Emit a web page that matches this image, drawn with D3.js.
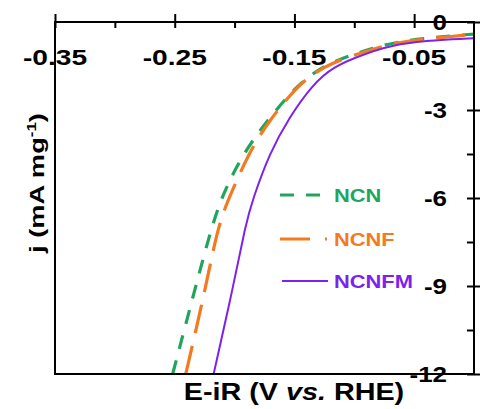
<!DOCTYPE html>
<html>
<head>
<meta charset="utf-8">
<script src="https://cdn.jsdelivr.net/npm/d3@7"></script>
<style>
  html, body { margin: 0; padding: 0; background: #fff; }
  svg { display: block; }
  text { font-family: "Liberation Sans", Arial, sans-serif; font-weight: bold; }
</style>
</head>
<body>
<svg id="chart" width="480" height="409"></svg>
<script>
// Polarization curves: potential (V vs. RHE) and mass-normalised current (mA mg-1)
const seriesNames = ["NCN", "NCNF", "NCNFM"];
const seriesColors = ["#20a65c", "#f47a1f", "#7d22ee"];

const ncnPotential   = [0, -0.0292, -0.0625, -0.09, -0.121, -0.135, -0.149, -0.1725, -0.1925, -0.2083, -0.2183, -0.2333, -0.2517];
const ncnCurrent     = [-0.41, -0.51, -0.65, -0.95, -1.40, -1.77, -2.22, -3.34, -4.47, -5.73, -6.85, -9.14, -12.0];
const ncnfPotential  = [0, -0.0292, -0.0625, -0.09, -0.121, -0.135, -0.1483, -0.171, -0.1883, -0.2017, -0.2135, -0.2245, -0.2408];
const ncnfCurrent    = [-0.42, -0.53, -0.68, -0.98, -1.43, -1.79, -2.22, -3.35, -4.48, -5.73, -6.85, -9.14, -12.0];
const ncnfmPotential = [0, -0.0292, -0.0625, -0.09, -0.1183, -0.135, -0.1542, -0.1708, -0.185, -0.1905, -0.2017, -0.2175];
const ncnfmCurrent   = [-0.55, -0.61, -0.72, -1.06, -1.53, -2.15, -3.24, -4.47, -6.07, -6.85, -9.14, -12.0];

const xMajorTicks = [-0.35, -0.25, -0.15, -0.05];
const xTickLabels = ["-0.35", "-0.25", "-0.15", "-0.05"];
const xMinorTicks = [-0.30, -0.20, -0.10];
const yMajorTicks = [0, -3, -6, -9, -12];
const yTickLabels = ["0", "-3", "-6", "-9", "-12"];
const yMinorTicks = [-1.5, -4.5, -7.5, -10.5];

const svg = d3.select("#chart");
const plot = { left: 55, right: 474, top: 22, bottom: 374 };

const x = d3.scaleLinear().domain([-0.35, 0]).range([plot.left, plot.right]);
const y = d3.scaleLinear().domain([0, -12]).range([plot.top, plot.bottom]);

const series = [
  { name: seriesNames[0], color: seriesColors[0], pot: ncnPotential, cur: ncnCurrent, dash: "14,12", width: 3.2 },
  { name: seriesNames[1], color: seriesColors[1], pot: ncnfPotential, cur: ncnfCurrent, dash: "29,13", width: 3.2 },
  { name: seriesNames[2], color: seriesColors[2], pot: ncnfmPotential, cur: ncnfmCurrent, dash: null, width: 2 }
];

svg.append("clipPath").attr("id", "plotClip")
  .append("rect")
  .attr("x", plot.left).attr("y", plot.top)
  .attr("width", plot.right - plot.left).attr("height", plot.bottom - plot.top);

// Curves (smoothed through the sampled points)
const line = d3.line()
  .x(d => x(d[0]))
  .y(d => y(d[1]))
  .curve(d3.curveBasis);

const curves = svg.append("g").attr("clip-path", "url(#plotClip)");
series.forEach(s => {
  const pts = s.pot.map((p, i) => [p, s.cur[i]]).sort((a, b) => a[0] - b[0]);
  curves.append("path")
    .datum(pts)
    .attr("d", line)
    .attr("fill", "none")
    .attr("stroke", s.color)
    .attr("stroke-width", s.width)
    .attr("stroke-dasharray", s.dash);
});

// Frame
svg.append("rect")
  .attr("x", plot.left).attr("y", plot.top)
  .attr("width", plot.right - plot.left).attr("height", plot.bottom - plot.top)
  .attr("fill", "none").attr("stroke", "#000").attr("stroke-width", 2);

function styleAxis(g) {
  g.select(".domain").remove();
  g.selectAll("line").attr("stroke", "#000").attr("stroke-width", 2);
  g.selectAll("text").remove();
}

// X axis along the top edge: inward ticks (major + minor), outward major ticks
svg.append("g").attr("transform", `translate(0,${plot.top})`)
  .call(d3.axisBottom(x).tickValues(xMajorTicks.concat(xMinorTicks)).tickSize(6).tickSizeOuter(0).tickFormat(""))
  .call(styleAxis);
svg.append("g").attr("transform", `translate(0,${plot.top})`)
  .call(d3.axisTop(x).tickValues(xMajorTicks).tickSize(8).tickSizeOuter(0).tickFormat(""))
  .call(styleAxis);

// Y axis along the right edge
svg.append("g").attr("transform", `translate(${plot.right},0)`)
  .call(d3.axisLeft(y).tickValues(yMajorTicks.concat(yMinorTicks)).tickSize(7).tickSizeOuter(0).tickFormat(""))
  .call(styleAxis);
svg.append("g").attr("transform", `translate(${plot.right},0)`)
  .call(d3.axisRight(y).tickValues(yMajorTicks).tickSize(7).tickSizeOuter(0).tickFormat(""))
  .call(styleAxis);

// Tick labels
svg.append("g").selectAll("text")
  .data(xMajorTicks)
  .join("text")
  .attr("transform", d => `translate(${x(d)},65) scale(1.28,1)`)
  .attr("text-anchor", "middle")
  .attr("font-size", 22)
  .attr("fill", "#000")
  .text((d, i) => xTickLabels[i]);

svg.append("g").selectAll("text")
  .data(yMajorTicks)
  .join("text")
  .attr("transform", d => `translate(447,${y(d)}) scale(1.18,1)`)
  .attr("text-anchor", "end")
  .attr("dy", "0.36em")
  .attr("font-size", 22)
  .attr("fill", "#000")
  .text((d, i) => yTickLabels[i]);

// Axis titles
const xTitle = svg.append("text")
  .attr("transform", "translate(294,400) scale(1.25,1)")
  .attr("text-anchor", "middle")
  .attr("font-size", 23)
  .attr("fill", "#000");
xTitle.append("tspan").text("E-iR (V ");
xTitle.append("tspan").attr("font-style", "italic").text("vs.");
xTitle.append("tspan").text(" RHE)");

const yTitle = svg.append("text")
  .attr("transform", "translate(44,183) rotate(-90) scale(1.3,1)")
  .attr("text-anchor", "middle")
  .attr("font-size", 21)
  .attr("fill", "#000");
yTitle.append("tspan").text("j (mA mg");
yTitle.append("tspan").attr("font-size", 13).attr("dy", -8).text("-1");
yTitle.append("tspan").attr("dy", 8).text(")");

// Legend
const legendRows = [
  { y: 195, x1: 280, x2: 323 },
  { y: 239, x1: 280, x2: 327 },
  { y: 281, x1: 282, x2: 328 }
];
const legend = svg.append("g");
series.forEach((s, i) => {
  const r = legendRows[i];
  legend.append("line")
    .attr("x1", r.x1).attr("x2", r.x2)
    .attr("y1", r.y).attr("y2", r.y)
    .attr("stroke", s.color)
    .attr("stroke-width", s.width)
    .attr("stroke-dasharray", i === 1 ? "30,15" : s.dash);
  legend.append("text")
    .attr("transform", `translate(334,${r.y}) scale(1.15,1)`)
    .attr("dy", "0.36em")
    .attr("font-size", 19)
    .attr("fill", s.color)
    .text(s.name);
});
</script>
</body>
</html>
